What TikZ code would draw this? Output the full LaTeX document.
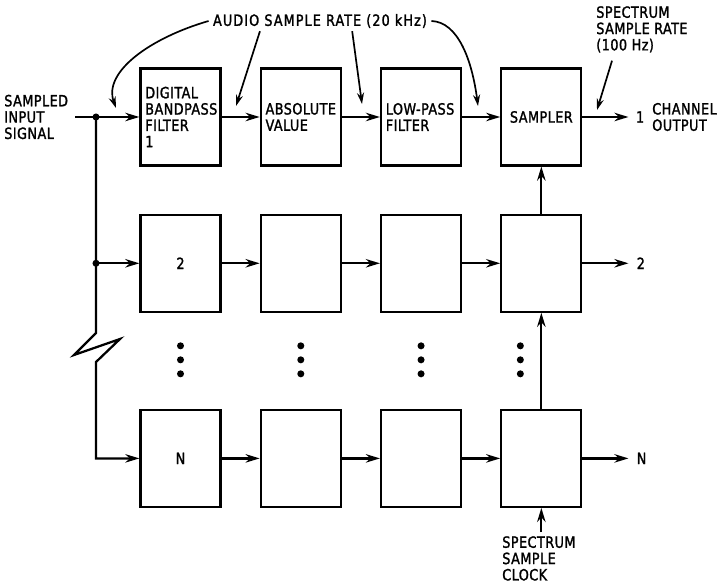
\documentclass[tikz,border=0pt]{standalone}
\usepackage{fontspec}
\setmainfont{DejaVu Sans Condensed}[LetterSpace=3, FakeBold=1.5, FakeStretch=0.92]
\usepackage{tikz}
\usetikzlibrary{arrows.meta,positioning,calc}
\tikzset{
  blockbox/.style={
    rectangle, draw, line width=1.6pt,
    minimum width=2.0cm, minimum height=2.42cm,
    font=\fontsize{11}{11.6}\selectfont, align=center,
    inner sep=0pt
  },
  textbox/.style={
    blockbox, text width=1.76cm, inner xsep=0.12cm, align=left
  },
  sigarrow/.style={
    -{Stealth[length=10pt,width=6pt]}, line width=1.6pt
  },
  notearrow/.style={
    -{Stealth[length=8pt,width=5pt]}, line width=1.2pt
  },
  labelnode/.style={
    font=\fontsize{11}{11.6}\selectfont, align=left, inner sep=0pt
  },
}

\begin{document}
\begin{tikzpicture}[x=0.025cm, y=-0.025cm]
    \useasboundingbox (0,0) rectangle (720,582);

    % CHANNEL 1
    \node[textbox] (bpf1) at (180.5,117) {DIGITAL\\BANDPASS\\FILTER\\1};
    \node[textbox, right=0.95cm of bpf1] (abs1) {ABSOLUTE\\VALUE};
    \node[textbox, right=0.95cm of abs1] (lpf1) {LOW-PASS\\FILTER};
    \node[blockbox, right=0.95cm of lpf1] (smp1) {SAMPLER};

    % CHANNEL 2
    \node[blockbox, below=1.18cm of bpf1] (bpf2) {2};
    \node[blockbox, right=0.95cm of bpf2] (abs2) {};
    \node[blockbox, right=0.95cm of abs2] (lpf2) {};
    \node[blockbox, right=0.95cm of lpf2] (smp2) {};

    % CHANNEL N
    \node[blockbox, below=2.4cm of bpf2] (bpfN) {N};
    \node[blockbox, right=0.95cm of bpfN] (absN) {};
    \node[blockbox, right=0.95cm of absN] (lpfN) {};
    \node[blockbox, right=0.95cm of lpfN] (smpN) {};

    % input and fan-out
    \node[labelnode, anchor=west] (insig) at (4,117) {SAMPLED\\INPUT\\SIGNAL};
    \coordinate (src) at (75,117);
    \coordinate (jn1) at (96,117);
    \coordinate (jn2) at (jn1 |- bpf2);
    \draw[sigarrow] (src) -- (bpf1);
    \draw[sigarrow] (jn2) -- (bpf2);
    \draw[sigarrow] (jn1) -- (96,333) -- (74,355) -- (120,339) -- (96,362) |- (bpfN);
    \fill (jn1) circle (2.5pt);
    \fill (jn2) circle (2.5pt);

    % chains
    \draw[sigarrow] (bpf1) -- (abs1);
    \draw[sigarrow] (abs1) -- (lpf1);
    \draw[sigarrow] (lpf1) -- (smp1);
    \draw[sigarrow] (bpf2) -- (abs2);
    \draw[sigarrow] (abs2) -- (lpf2);
    \draw[sigarrow] (lpf2) -- (smp2);
    \draw[sigarrow] (bpfN) -- (absN);
    \draw[sigarrow] (absN) -- (lpfN);
    \draw[sigarrow] (lpfN) -- (smpN);

    % outputs
    \coordinate (out1) at ($(smp1.east)+(46,0)$);
    \coordinate (out2) at ($(smp2.east)+(46,0)$);
    \coordinate (outN) at ($(smpN.east)+(46,0)$);
    \draw[sigarrow] (smp1) -- (out1);
    \draw[sigarrow] (smp2) -- (out2);
    \draw[sigarrow] (smpN) -- (outN);
    \node[labelnode, right=0.18cm of out1] (o1) {1};
    \node[labelnode, right=0.2cm of out2] (o2) {2};
    \node[labelnode, right=0.2cm of outN] (oN) {N};
    \node[labelnode, anchor=west] (chout) at (652,117) {CHANNEL\\OUTPUT};

    % sample clock
    \draw[sigarrow] (smpN) -- (smp2);
    \draw[sigarrow] (smp2) -- (smp1);
    \node[labelnode, anchor=north west] (clk) at (502,536) {SPECTRUM\\SAMPLE\\CLOCK};
    \draw[sigarrow] ($(clk.north -| smpN.south)+(0,-4)$) -- (smpN.south);

    % vertical dots
    \foreach \b/\dx in {bpf/0, abs/0, lpf/0, smp/-21}
        \foreach \dy in {33,47,61}
            \fill ($(\b2.south)+(\dx,\dy)$) circle (2.5pt);

    % rate annotations
    \node[labelnode, font=\fontsize{11}{11.6}\selectfont\addfontfeature{LetterSpace=7}] (audio) at (320,21) {AUDIO SAMPLE RATE (20 kHz)};
    \node[labelnode, anchor=north west] (spec) at (596,6) {SPECTRUM\\SAMPLE RATE\\(100 Hz)};
    \coordinate (t1) at (116,108);
    \coordinate (t2) at (236,106);
    \coordinate (t3) at (362,104);
    \coordinate (t4) at (478,106);
    \coordinate (t5) at (597,110);
    \draw[notearrow] ([xshift=-3pt]audio.west) .. controls (150,38) and (103,72) .. (t1);
    \draw[notearrow] ($(audio.south west)!0.22!(audio.south east)+(0,3)$) -- (t2);
    \draw[notearrow] ($(audio.south west)!0.65!(audio.south east)+(0,3)$) -- (t3);
    \draw[notearrow] ([xshift=3pt]audio.east) .. controls (458,22) and (472,60) .. (t4);
    \draw[notearrow] ($(spec.south west)+(16,8)$) -- (t5);
\end{tikzpicture}
\end{document}
